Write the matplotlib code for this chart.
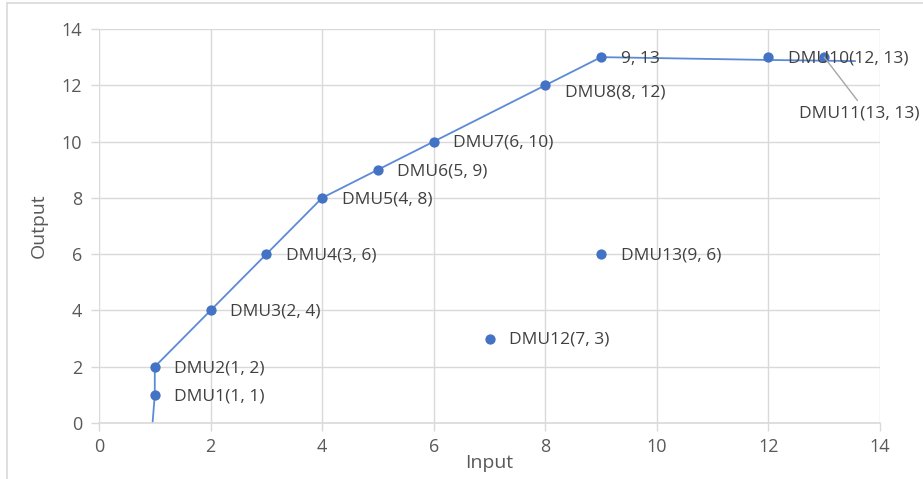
import matplotlib.pyplot as plt
from matplotlib.lines import Line2D

plt.rcParams['font.family'] = ['Open Sans', 'DejaVu Sans']

# Data points
inputs = [1, 1, 2, 3, 4, 5, 6, 8, 9, 12, 13, 7, 9]
outputs = [1, 2, 4, 6, 8, 9, 10, 12, 13, 13, 13, 3, 6]
labels = ["DMU1(1, 1)", "DMU2(1, 2)", "DMU3(2, 4)", "DMU4(3, 6)", "DMU5(4, 8)",
          "DMU6(5, 9)", "DMU7(6, 10)", "DMU8(8, 12)", "9, 13", "DMU10(12, 13)",
          "DMU11(13, 13)", "DMU12(7, 3)", "DMU13(9, 6)"]

# Frontier line (as drawn)
frontier_x = [0.96, 1, 1, 2, 3, 4, 5, 6, 8, 9, 12, 13.55]
frontier_y = [0, 1, 2, 4, 6, 8, 9, 10, 12, 13, 12.9, 12.86]

x_ticks = [0, 2, 4, 6, 8, 10, 12, 14]
y_ticks = [0, 2, 4, 6, 8, 10, 12, 14]

blue = '#4472C4'
grid_c = '#D9D9D9'
tick_c = '#595959'
text_c = '#404040'

fig = plt.figure(figsize=(9.23, 4.79), dpi=100)
ax = fig.add_axes([99/923, 1-423/479, (880-99)/923, (423-29)/479])

ax.plot(frontier_x, frontier_y, color='#5B8BD6', lw=1.3, zorder=2)
ax.scatter(inputs, outputs, s=55, color=blue, zorder=3, linewidths=0)

fs = 12.5
offsets = {i: (14, -1) for i in range(len(labels))}
offsets[7] = (14, -5)
for i, (x, y, t) in enumerate(zip(inputs, outputs, labels)):
    if i == 10:
        continue
    dx, dy = offsets[i]
    ax.annotate(t, (x, y), xytext=(dx, dy), textcoords='offset points',
                ha='left', va='center', fontsize=fs, color=text_c, zorder=4)
# DMU11 with leader line
ax.annotate(labels[10], (inputs[10], outputs[10]), xytext=(12.54, 11.0),
            textcoords='data', ha='left', va='center', fontsize=fs,
            color=text_c, zorder=4,
            arrowprops=dict(arrowstyle='-', color='#A6A6A6', lw=1,
                            shrinkA=2, shrinkB=0, relpos=(0.52, 1.0)))

ax.set_xlim(0, 14)
ax.set_ylim(0, 14)
ax.set_xticks(x_ticks)
ax.set_yticks(y_ticks)
ax.grid(True, color=grid_c, lw=1)
ax.set_axisbelow(True)
for s in ['top', 'right', 'left']:
    ax.spines[s].set_visible(False)
ax.spines['bottom'].set_color(grid_c)
ax.spines['bottom'].set_linewidth(1.2)
ax.tick_params(axis='both', colors=grid_c, labelcolor=tick_c, labelsize=13,
               length=6, width=1, direction='out')
ax.tick_params(axis='x', pad=5)
ax.tick_params(axis='y', pad=6)
ax.set_xlabel('Input', fontsize=14, color=tick_c, labelpad=-2)
ax.set_ylabel('Output', fontsize=14, color=tick_c, labelpad=10)

# chart area border (partially visible)
fig.add_artist(Line2D([7/923, 7/923], [0, 1-3/479], color=grid_c, lw=1.2,
                      transform=fig.transFigure))
fig.add_artist(Line2D([7/923, 1], [1-3/479, 1-3/479], color=grid_c, lw=1.2,
                      transform=fig.transFigure))

fig.savefig('out.png', dpi=100)
